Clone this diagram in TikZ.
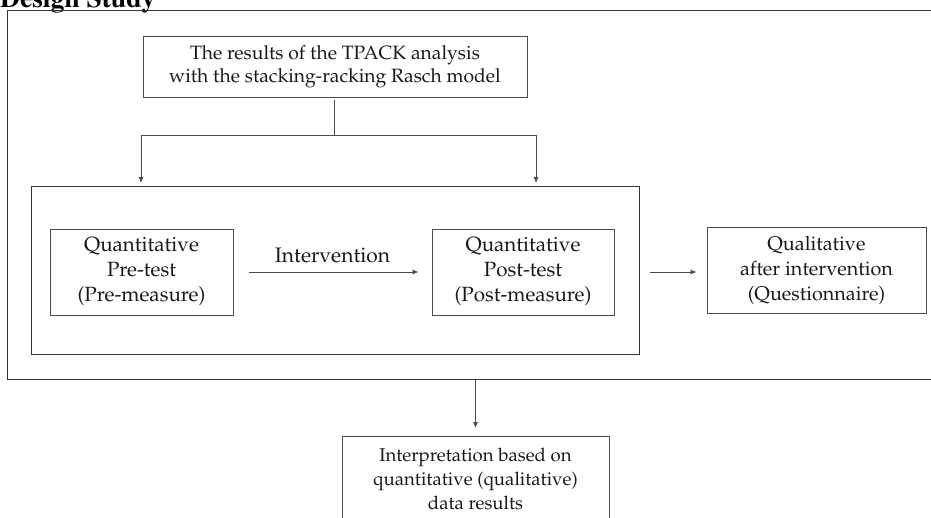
\documentclass[tikz,border=0pt]{standalone}
\usepackage[T1]{fontenc}
\usetikzlibrary{arrows.meta}
\newcommand{\pfont}[2]{\fontfamily{ppl}\fontsize{#1}{#2}\selectfont}
\tikzset{
  boxtxt/.style={draw=black!70, line width=0.9pt, align=center, inner sep=0pt, text=black!90},
  frame/.style={draw=black!80, line width=1pt},
  conn/.style={draw=black!70, line width=0.8pt},
  arr/.style={conn, -{Latex[length=6pt,width=5pt]}},
}
\begin{document}
\begin{tikzpicture}[x=1pt,y=-1pt]
\useasboundingbox (0,0) rectangle (931,518);
\clip (0,0) rectangle (931,518);
% title
\node[anchor=base west, inner sep=0pt, font=\fontfamily{ptm}\bfseries\fontsize{27.5}{30}\selectfont] (title) at (0,7.5) {Design Study};
% outer and inner frames
\node[frame, minimum width=930pt, minimum height=369pt, anchor=north west, inner sep=0pt] (outer) at (7,10) {};
\node[frame, minimum width=608pt, minimum height=168pt, anchor=north west, inner sep=0pt] (inner) at (31,186) {};
% boxes
\node[boxtxt, minimum width=384pt, minimum height=61pt, font=\pfont{19.3}{23}] (top) at (335,66.5) {The results of the TPACK analysis\\with the stacking-racking Rasch model};
\node[boxtxt, minimum width=183pt, minimum height=86pt, font=\pfont{20.6}{25}] (pre) at (141.5,272) {Quantitative\\Pre-test\\(Pre-measure)};
\node[boxtxt, minimum width=182pt, minimum height=86pt, font=\pfont{20.6}{25}] (post) at (523,272) {Quantitative\\Post-test\\(Post-measure)};
\node[boxtxt, minimum width=219pt, minimum height=86pt, font=\pfont{19.8}{25}] (qual) at (816.5,270) {Qualitative\\after intervention\\(Questionnaire)};
\node[boxtxt, minimum width=267pt, minimum height=86pt, anchor=north, font=\pfont{18.6}{24}] (interp) at (475.5,436) {Interpretation based on\\quantitative (qualitative)\\data results};
% connectors from top box
\coordinate (split) at (334,135);
\coordinate (splitL) at (141,135);
\coordinate (splitR) at (536,135);
\draw[conn] (top.south -| split) ++(0,3) -- (split);
\draw[conn] (splitL) -- (splitR);
\draw[arr, shorten >=3pt] (splitL) -- (splitL |- inner.north);
\draw[arr, shorten >=3pt] (splitR) -- (splitR |- inner.north);
% intervention arrow
\draw[arr, shorten <=16pt, shorten >=13pt] (pre.east) -- node[above=5pt, font=\pfont{21}{25}, text=black!90] (intlabel) {Intervention} (post.east -| post.west);
% post to qualitative
\draw[arr, shorten <=36pt, shorten >=10pt] (post.east) -- (post.east -| qual.west);
% outer to interpretation
\draw[arr, shorten >=8pt] (interp.north |- outer.south) -- (interp.north);
\end{tikzpicture}
\end{document}
